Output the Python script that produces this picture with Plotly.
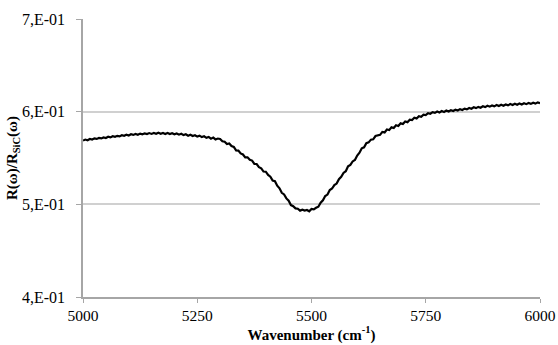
import plotly.graph_objects as go

wavenumber = list(range(5000, 6001, 5))
ratio = [
    0.5688, 0.5699, 0.5692, 0.5705, 0.5699, 0.5712, 0.5706, 0.5716, 0.5711, 0.5722,
    0.5716, 0.5729, 0.5722, 0.5735, 0.5728, 0.5739, 0.5733, 0.5746, 0.5739, 0.5751,
    0.5743, 0.5756, 0.5749, 0.5759, 0.5751, 0.5763, 0.5755, 0.5766, 0.5758, 0.5769,
    0.5760, 0.5770, 0.5761, 0.5772, 0.5762, 0.5771, 0.5759, 0.5770, 0.5758, 0.5768,
    0.5756, 0.5765, 0.5752, 0.5762, 0.5747, 0.5756, 0.5741, 0.5751, 0.5737, 0.5746,
    0.5731, 0.5741, 0.5725, 0.5734, 0.5718, 0.5727, 0.5709, 0.5720, 0.5700, 0.5710,
    0.5705, 0.5680, 0.5675, 0.5650, 0.5657, 0.5629, 0.5619, 0.5582, 0.5580, 0.5549,
    0.5538, 0.5507, 0.5507, 0.5481, 0.5472, 0.5436, 0.5435, 0.5401, 0.5388, 0.5354,
    0.5352, 0.5317, 0.5299, 0.5257, 0.5250, 0.5201, 0.5173, 0.5124, 0.5107, 0.5064,
    0.5039, 0.4992, 0.4980, 0.4956, 0.4953, 0.4932, 0.4942, 0.4932, 0.4939, 0.4925,
    0.4950, 0.4946, 0.4963, 0.4974, 0.5017, 0.5044, 0.5089, 0.5105, 0.5155, 0.5171,
    0.5208, 0.5224, 0.5272, 0.5297, 0.5339, 0.5357, 0.5410, 0.5426, 0.5463, 0.5479,
    0.5527, 0.5557, 0.5604, 0.5615, 0.5660, 0.5669, 0.5698, 0.5702, 0.5737, 0.5744,
    0.5750, 0.5782, 0.5776, 0.5807, 0.5801, 0.5831, 0.5824, 0.5853, 0.5846, 0.5874,
    0.5867, 0.5894, 0.5887, 0.5914, 0.5909, 0.5934, 0.5927, 0.5951, 0.5945, 0.5968,
    0.5963, 0.5984, 0.5978, 0.5995, 0.5987, 0.6002, 0.5992, 0.6007, 0.5997, 0.6012,
    0.6002, 0.6016, 0.6007, 0.6021, 0.6012, 0.6027, 0.6018, 0.6033, 0.6025, 0.6040,
    0.6032, 0.6047, 0.6038, 0.6052, 0.6043, 0.6058, 0.6049, 0.6063, 0.6054, 0.6067,
    0.6057, 0.6071, 0.6061, 0.6074, 0.6064, 0.6078, 0.6068, 0.6082, 0.6072, 0.6085,
    0.6075, 0.6088, 0.6078, 0.6091, 0.6081, 0.6094, 0.6084, 0.6097, 0.6087, 0.6100,
    0.6092,
]
x_ticks = [5000, 5250, 5500, 5750, 6000]
y_ticks = [0.4, 0.5, 0.6, 0.7]
y_tick_labels = ["4,E-01", "5,E-01", "6,E-01", "7,E-01"]

fig = go.Figure()
fig.add_trace(go.Scatter(
    x=wavenumber, y=ratio, mode="lines",
    line=dict(color="black", width=2.2),
    showlegend=False,
))

font_family = "Liberation Serif"
fig.update_layout(
    width=558, height=345,
    margin=dict(l=83, r=18, t=19, b=48),
    paper_bgcolor="white", plot_bgcolor="white",
    font=dict(family=font_family, size=15.5, color="black"),
    xaxis=dict(
        range=[5000, 6000], tickvals=x_ticks, ticktext=[str(v) for v in x_ticks],
        showgrid=False, zeroline=False, automargin=False,
        showline=True, linecolor="#a6a6a6", linewidth=1.5,
        ticks="outside", ticklen=4, tickcolor="#a6a6a6",
        tickfont=dict(family=font_family, size=15.5, color="black"),
        title=dict(text="<b>Wavenumber (cm<sup>-1</sup>)</b>",
                   font=dict(family=font_family, size=15, color="black"), standoff=5),
    ),
    yaxis=dict(
        range=[0.4, 0.7], tickvals=y_ticks, ticktext=y_tick_labels,
        showgrid=True, gridcolor="#d0d0d0", gridwidth=1.5, zeroline=False,
        automargin=False,
        showline=True, linecolor="#a6a6a6", linewidth=1.5,
        ticks="outside", ticklen=5, tickcolor="#a6a6a6",
        ticklabelstandoff=8,
        tickfont=dict(family=font_family, size=16, color="black"),
        title=dict(text="<b>R(ω)/R<sub>SiC</sub>(ω)</b>",
                   font=dict(family=font_family, size=15, color="black"), standoff=0),
    ),
)

fig.write_html("out.html", config={"displayModeBar": False},
               post_script="document.body.style.margin='0';document.body.style.overflow='hidden';")
